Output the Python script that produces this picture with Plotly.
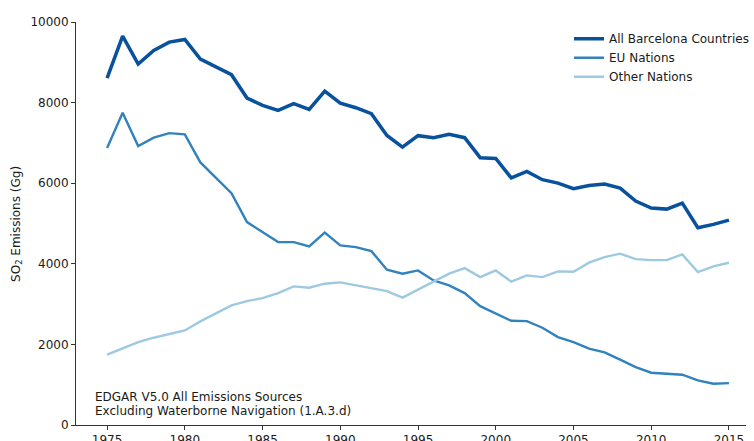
import plotly.graph_objects as go

years = list(range(1975, 2016))
all_barcelona = [8608, 9650, 8955, 9295, 9501, 9568, 9080, 8881, 8692, 8112,
                 7931, 7806, 7973, 7829, 8285, 7988, 7873, 7725, 7186, 6896,
                 7179, 7129, 7211, 7129, 6633, 6615, 6130, 6293, 6087, 6003,
                 5864, 5945, 5978, 5878, 5556, 5382, 5357, 5506, 4896, 4978, 5084]
eu_nations = [6871, 7750, 6921, 7129, 7243, 7211, 6516, 6136, 5754, 5035,
              4787, 4538, 4538, 4432, 4772, 4457, 4414, 4315, 3854, 3754,
              3836, 3588, 3464, 3273, 2950, 2777, 2585, 2578, 2414, 2181,
              2057, 1893, 1801, 1620, 1437, 1298, 1273, 1248, 1107, 1025, 1040]
other_nations = [1744, 1908, 2057, 2166, 2248, 2347, 2571, 2762, 2968, 3074,
                 3149, 3273, 3439, 3407, 3506, 3538, 3464, 3407, 3323, 3159,
                 3357, 3563, 3754, 3893, 3670, 3836, 3555, 3712, 3670, 3811,
                 3804, 4027, 4166, 4251, 4117, 4092, 4092, 4233, 3794, 3935, 4027]
series_names = ["All Barcelona Countries", "EU Nations", "Other Nations"]
x_ticks = [1975, 1980, 1985, 1990, 1995, 2000, 2005, 2010, 2015]
y_ticks = [0, 2000, 4000, 6000, 8000, 10000]
note_lines = ["EDGAR V5.0 All Emissions Sources", "Excluding Waterborne Navigation (1.A.3.d)"]

colors = ["#08519c", "#3182bd", "#9ecae1"]
widths = [3.5, 2.4, 2.4]
FONT = "DejaVu Sans"
TXT = "#1a1a1a"

fig = go.Figure()
for name, vals, c, w in zip(series_names, [all_barcelona, eu_nations, other_nations], colors, widths):
    fig.add_trace(go.Scatter(x=years, y=vals, mode="lines", name=name,
                             line=dict(color=c, width=w)))

W, H = 754, 441
L = 76.3
T = 21.7
R = 0
bottom = 424.6
B = H - bottom
pw = W - L - R
ph = bottom - T

def px(xp):
    return (xp - L) / pw

def py(yp):
    return (bottom - yp) / ph

fig.update_layout(
    width=W, height=H,
    margin=dict(l=L, r=R, t=T, b=B, pad=0),
    paper_bgcolor="white", plot_bgcolor="white",
    font=dict(family=FONT, size=12, color=TXT),
    showlegend=True,
    legend=dict(x=px(575), y=py(24), xanchor="left", yanchor="top",
                bgcolor="rgba(0,0,0,0)", font=dict(size=12, color=TXT),
                tracegroupgap=0),
    xaxis=dict(range=[1973, 1973 + pw / 15.725], tickvals=x_ticks, tickformat="d",
               showgrid=False, zeroline=False, showline=True, linecolor="#333",
               linewidth=1, ticks="outside", ticklen=4, tickcolor="#333",
               automargin=False, tickfont=dict(size=12)),
    yaxis=dict(range=[0, 10000], tickvals=y_ticks, tickformat="d",
               showgrid=False, zeroline=False, showline=True, linecolor="#333",
               linewidth=1, ticks="outside", ticklen=4, tickcolor="#333",
               automargin=False, tickfont=dict(size=12)),
)

fig.add_annotation(text="SO<sub>2</sub> Emissions (Gg)", xref="paper", yref="paper",
                   x=px(16), y=0.5, textangle=-90, showarrow=False,
                   xanchor="center", yanchor="middle", font=dict(size=12, color=TXT))
for line, yp in zip(note_lines, [397, 411]):
    fig.add_annotation(text=line, xref="paper", yref="paper", x=px(94), y=py(yp),
                       xanchor="left", yanchor="middle", showarrow=False,
                       font=dict(size=12, color=TXT))

fig.write_html(
    "out.html",
    config={"displayModeBar": False},
    post_script=(
        "document.body.style.margin='0';"
        "document.body.style.overflow='hidden';"
        "document.documentElement.style.overflow='hidden';"
    ),
)
